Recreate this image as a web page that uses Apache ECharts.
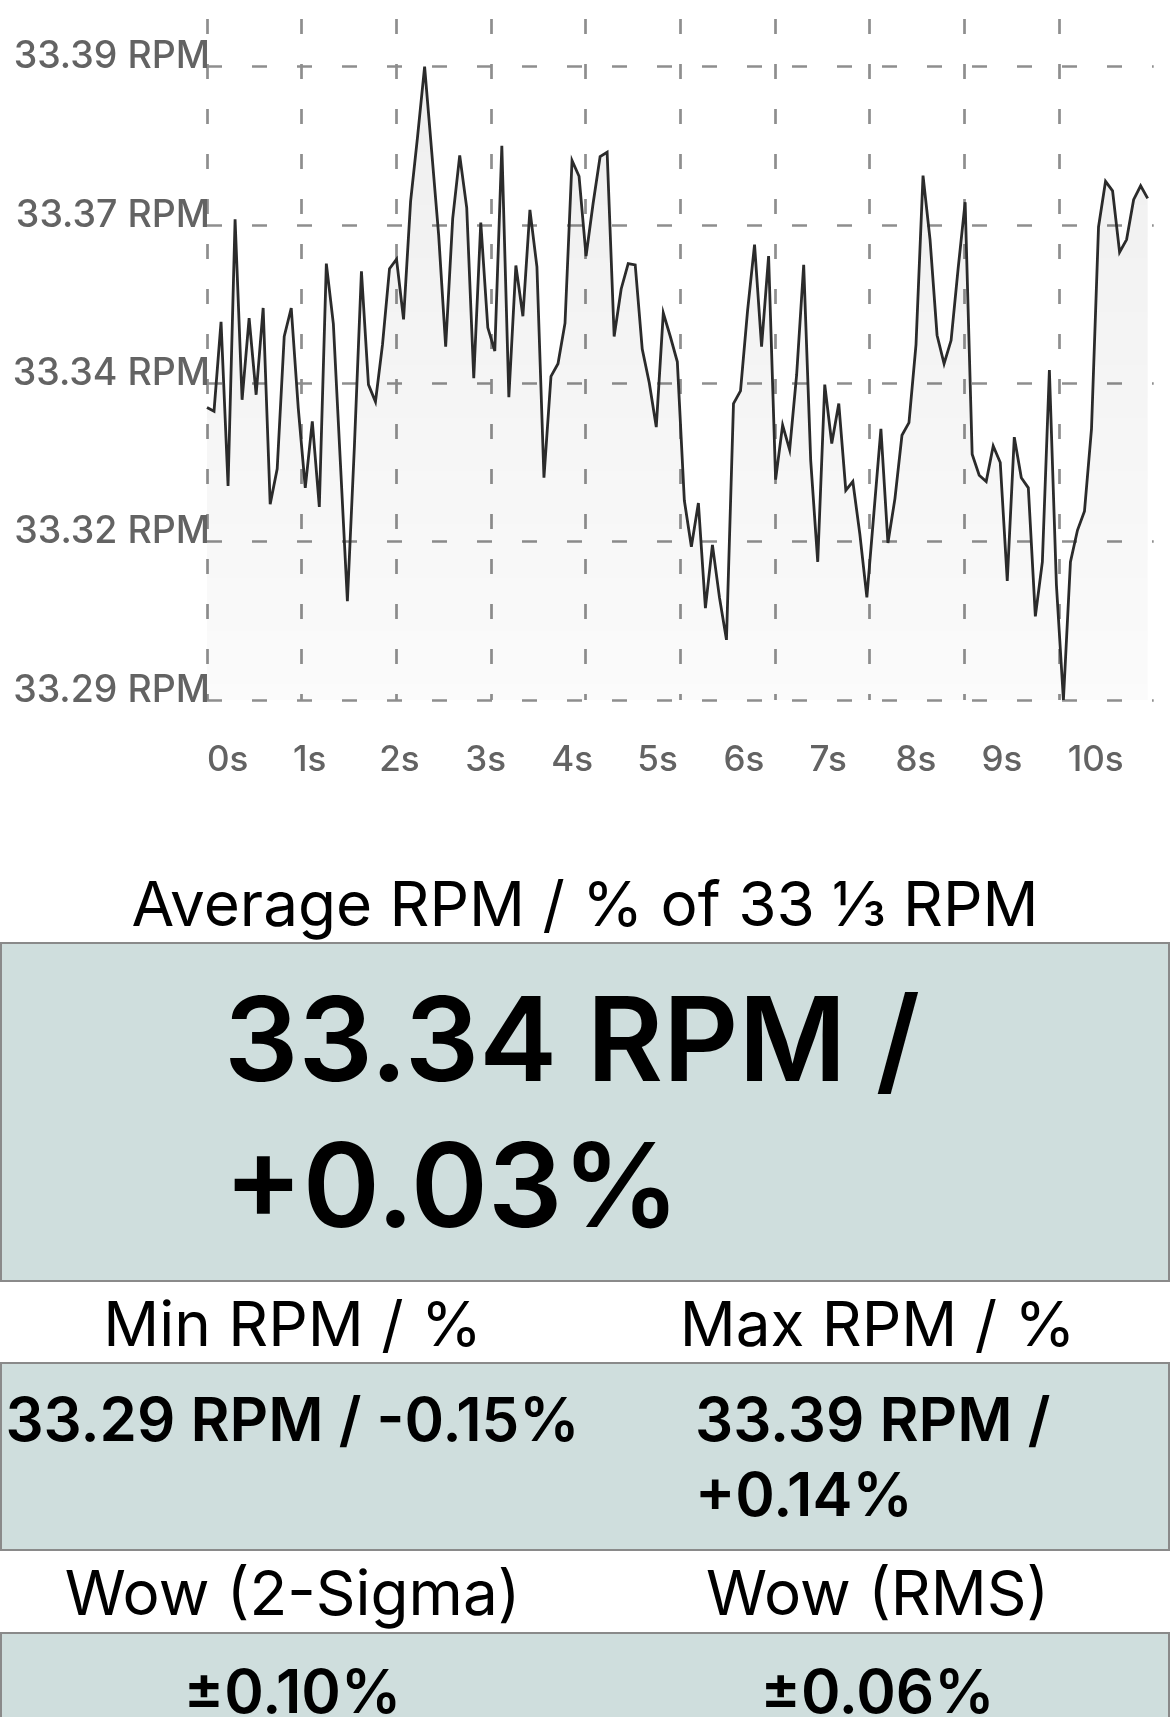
<!DOCTYPE html>
<html>
<head>
<meta charset="utf-8">
<script src="https://cdn.jsdelivr.net/npm/echarts@6/dist/echarts.min.js"></script>
<style>
  html, body { margin: 0; padding: 0; background: #fff; }
  body { width: 1170px; height: 1717px; position: relative; overflow: hidden; font-family: Inter, "Noto Sans", sans-serif; color: #000; }
  #chart { position: absolute; left: 0; top: 0; width: 1170px; height: 800px; }
  .hdr { position: absolute; font-size: 62px; font-weight: 400; line-height: 64px; text-align: center; white-space: nowrap; }
  .box { position: absolute; left: 0; width: 1166px; background: #cfdedd; border: 2px solid #8a8a8a; }
  .val { position: absolute; font-weight: 600; white-space: nowrap; }
</style>
</head>
<body>
<div id="chart"></div>

<div class="hdr" style="left:0;width:1170px;top:871.5px;">Average RPM / % of 33 ⅓ RPM</div>
<div class="box" style="top:942px;height:336px;"></div>
<div class="val" style="left:224px;top:966px;font-size:117px;line-height:146px;">33.34 RPM /<br>+0.03%</div>

<div class="hdr" style="left:0;width:585px;top:1292px;">Min RPM / %</div>
<div class="hdr" style="left:585px;width:585px;top:1292px;">Max RPM / %</div>
<div class="box" style="top:1362px;height:185px;"></div>
<div class="val" style="left:0;width:585px;text-align:center;top:1382.4px;font-size:60px;line-height:75px;">33.29 RPM / -0.15%</div>
<div class="val" style="left:695px;top:1382.4px;font-size:60px;line-height:75px;">33.39 RPM /<br>+0.14%</div>

<div class="hdr" style="left:0;width:585px;top:1560.5px;">Wow (2-Sigma)</div>
<div class="hdr" style="left:585px;width:585px;top:1560.5px;">Wow (RMS)</div>
<div class="box" style="top:1632px;height:120px;"></div>
<div class="val" style="left:0;width:585px;text-align:center;top:1653.7px;font-size:60px;line-height:75px;">±0.10%</div>
<div class="val" style="left:585px;width:585px;text-align:center;top:1653.7px;font-size:60px;line-height:75px;">±0.06%</div>

<script>
// RPM samples, one per step along the trace
const rpm = [
  33.3362, 33.3356, 33.3497, 33.3238, 33.3659, 33.3374, 33.3503, 33.3382, 33.3519, 33.3209,
  33.3265, 33.3474, 33.3519, 33.3361, 33.3235, 33.3340, 33.3205, 33.3589, 33.3494, 33.3275,
  33.3056, 33.3301, 33.3577, 33.3398, 33.3371, 33.3461, 33.3581, 33.3596, 33.3501, 33.3687,
  33.3790, 33.3900, 33.3767, 33.3634, 33.3458, 33.3660, 33.3760, 33.3677, 33.3408, 33.3654,
  33.3488, 33.3451, 33.3775, 33.3378, 33.3586, 33.3506, 33.3674, 33.3584, 33.3251, 33.3411,
  33.3431, 33.3495, 33.3752, 33.3727, 33.3601, 33.3684, 33.3758, 33.3765, 33.3474, 33.3549,
  33.3589, 33.3587, 33.3454, 33.3401, 33.3331, 33.3511, 33.3474, 33.3434, 33.3215, 33.3142,
  33.3211, 33.3045, 33.3145, 33.3062, 33.2995, 33.3368, 33.3388, 33.3514, 33.3619, 33.3458,
  33.3601, 33.3248, 33.3334, 33.3295, 33.3414, 33.3587, 33.3278, 33.3118, 33.3398, 33.3305,
  33.3368, 33.3231, 33.3245, 33.3162, 33.3062, 33.3195, 33.3328, 33.3148, 33.3218, 33.3318,
  33.3338, 33.3461, 33.3728, 33.3627, 33.3476, 33.3431, 33.3468, 33.3581, 33.3686, 33.3288,
  33.3255, 33.3245, 33.3301, 33.3275, 33.3088, 33.3315, 33.3251, 33.3235, 33.3032, 33.3118,
  33.3421, 33.3082, 33.2900, 33.3118, 33.3168, 33.3198, 33.3328, 33.3647, 33.3719, 33.3704,
  33.3607, 33.3627, 33.3690, 33.3712, 33.3692
];
const xTickLabels = ['0s','1s','2s','3s','4s','5s','6s','7s','8s','9s','10s'];
const yTickValues = [33.29, 33.315, 33.34, 33.365, 33.39];
const yTickLabels = ['33.29 RPM','33.32 RPM','33.34 RPM','33.37 RPM','33.39 RPM'];

const chart = echarts.init(document.getElementById('chart'), null, { renderer: 'canvas' });
const gridLeft = 207, gridW = 946.7;
const dash = { type: [15, 30], color: '#8e8e8e', width: 2.7 };
const labelFont = { fontFamily: 'Inter', fontWeight: 500, color: '#636363' };

chart.setOption({
  animation: false,
  grid: [
    { left: gridLeft, top: 66.7, width: gridW, height: 633.3 },
    { left: gridLeft, top: 19, width: gridW, height: 681 }
  ],
  xAxis: [
    { // data axis (sample index)
      gridIndex: 0, type: 'value', position: 'top', min: 0, max: 134.86, show: false
    },
    { // time labels
      gridIndex: 0, type: 'value', position: 'bottom', min: 0, max: 11, interval: 1,
      axisLine: { show: false }, axisTick: { show: false }, splitLine: { show: false },
      axisLabel: Object.assign({
        fontSize: 35, align: 'left', margin: 43,
        formatter: v => xTickLabels[Math.round(v)] || ''
      }, labelFont)
    },
    { // vertical grid
      gridIndex: 1, type: 'value', position: 'bottom', min: 0, max: 10, interval: 1,
      axisLine: { show: false }, axisTick: { show: false }, axisLabel: { show: false },
      splitLine: { show: true, showMaxLine: false, lineStyle: dash }
    }
  ],
  yAxis: [
    {
      gridIndex: 0, type: 'value', min: yTickValues[0], max: yTickValues[yTickValues.length - 1], interval: 0.025,
      axisLine: { show: false }, axisTick: { show: false },
      splitLine: { show: true, lineStyle: dash },
      axisLabel: Object.assign({
        fontSize: 37.5, margin: -3, verticalAlign: 'bottom', lineHeight: 19,
        formatter: v => {
          const i = Math.round((v - yTickValues[0]) / 0.025);
          return yTickLabels[i] || '';
        }
      }, labelFont)
    },
    { gridIndex: 1, type: 'value', min: 0, max: 1, show: false, splitLine: { show: false } }
  ],
  series: [{
    type: 'line',
    xAxisIndex: 0, yAxisIndex: 0,
    data: rpm.map((v, i) => [i, v]),
    symbol: 'none',
    clip: true,
    lineStyle: { color: '#2b2b2b', width: 2.8, join: 'miter', miterLimit: 6 },
    areaStyle: {
      origin: 'start',
      color: new echarts.graphic.LinearGradient(0, 0, 0, 1, [
        { offset: 0, color: 'rgba(0,0,0,0.09)' },
        { offset: 1, color: 'rgba(0,0,0,0.025)' }
      ])
    }
  }]
});
</script>
</body>
</html>
